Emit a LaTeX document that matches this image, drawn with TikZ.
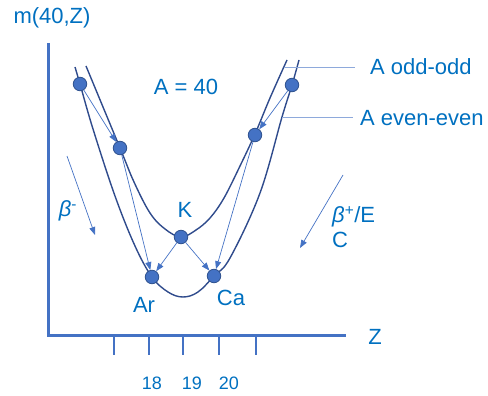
\documentclass[tikz,border=0pt]{standalone}
\usepackage{fontspec}
\setmainfont{Liberation Sans}
\usepackage{tikz}
\usetikzlibrary{arrows.meta, positioning}
\definecolor{txtblue}{HTML}{0070C0}
\definecolor{axisblue}{HTML}{4472C4}
\definecolor{curveblue}{HTML}{2F4B8C}
\definecolor{dotedge}{HTML}{2F528F}
\definecolor{pointblue}{HTML}{8EA9DB}

\begin{document}
\begin{tikzpicture}[x=1pt, y=-1pt,
  nuc/.style={circle, fill=axisblue, draw=dotedge, line width=0.8pt, minimum size=13.5pt, inner sep=0pt},
  decay/.style={draw=axisblue, line width=0.7pt, -{Triangle[length=8pt,width=6pt]}},
  parab/.style={draw=curveblue, line width=1.4pt},
  axis/.style={draw=axisblue, line width=3pt},
  pointer/.style={draw=pointblue, line width=1pt},
  lbl/.style={text=txtblue, font=\fontsize{22}{26}\selectfont, inner sep=0pt},
  ticklbl/.style={text=txtblue, font=\fontsize{18}{22}\selectfont, inner sep=0pt}]
  \useasboundingbox (0,0) rectangle (488,396);

  % axes and ticks
  \draw[axis] (48,43) -- (48,335) -- (346,335);
  \foreach \x in {114,149,183,219,256}
    \draw[axisblue, line width=2.7pt] (\x,335) -- (\x,355);
  \node[ticklbl] (t18) at (152,383) {18};
  \node[ticklbl] (t19) at (192,383) {19};
  \node[ticklbl] (t20) at (229,383) {20};
  \node[lbl] (zlbl) at (375,337) {Z};
  \node[lbl] (mlbl) at (52,18) {m(40,Z)};
  \node[lbl] (albl) at (186,87) {A = 40};

  % mass parabolas: even-even (outer), odd-odd (inner)
  \draw[parab] plot[smooth, tension=0.6] coordinates {(75,67) (80,84) (93,129) (115,196)
    (135,246) (152,277) (168,292) (183,297) (198,292) (214,276) (230,258) (260,193)
    (282,117) (292,85) (299,60)};
  \draw[parab] plot[smooth, tension=0.6] coordinates {(86,66) (120,148) (134,182) (150,213)
    (165,229) (181,237) (196,230) (210,218) (224,198) (240,166) (255,134) (270,98) (287,60)};

  % nuclei
  \node[nuc] (ee16) at (80,84) {};
  \node[nuc] (oo17) at (120,148) {};
  \node[nuc] (K) at (181,237) {};
  \node[nuc] (Ar) at (152,277) {};
  \node[nuc] (Ca) at (214,276) {};
  \node[nuc] (oo21) at (255,135) {};
  \node[nuc] (ee22) at (292,85) {};
  \node[lbl, above=12pt of K, xshift=4pt] (klbl) {K};
  \node[lbl, below=13pt of Ar, xshift=-8pt] (arlbl) {Ar};
  \node[lbl, below=7pt of Ca, xshift=17pt] (calbl) {Ca};

  % decays
  \draw[decay] (ee16) -- (oo17);
  \draw[decay] (oo17) -- (Ar);
  \draw[decay] (K) -- (Ar);
  \draw[decay] (K) -- (Ca);
  \draw[decay] (oo21) -- (Ca);
  \draw[decay] (ee22) -- (oo21);

  % beta directions
  \coordinate (bmtop) at (67,156);
  \coordinate (bmtip) at (95,235);
  \draw[decay] (bmtop) -- (bmtip);
  \node[lbl] (bmlbl) at (68,211) {\itshape β\textsuperscript{\upshape -}};
  \coordinate (bptop) at (343,175);
  \coordinate (bptip) at (300,248);
  \draw[decay] (bptop) -- (bptip);
  \node[lbl, anchor=west, align=left, font=\fontsize{22}{25}\selectfont] (bplbl) at (332,227) {{\itshape β}\textsuperscript{+}/E\\C};

  % curve labels
  \coordinate (oohit) at (284,68);
  \node[lbl, anchor=west] (oolbl) at (370,67) {A odd-odd};
  \draw[pointer, shorten >=15pt] (oohit) -- (oohit -| oolbl.west);
  \coordinate (eehit) at (282,118);
  \node[lbl, anchor=west] (eelbl) at (360,118) {A even-even};
  \draw[pointer, shorten >=7pt] (eehit) -- (eehit -| eelbl.west);
\end{tikzpicture}
\end{document}
